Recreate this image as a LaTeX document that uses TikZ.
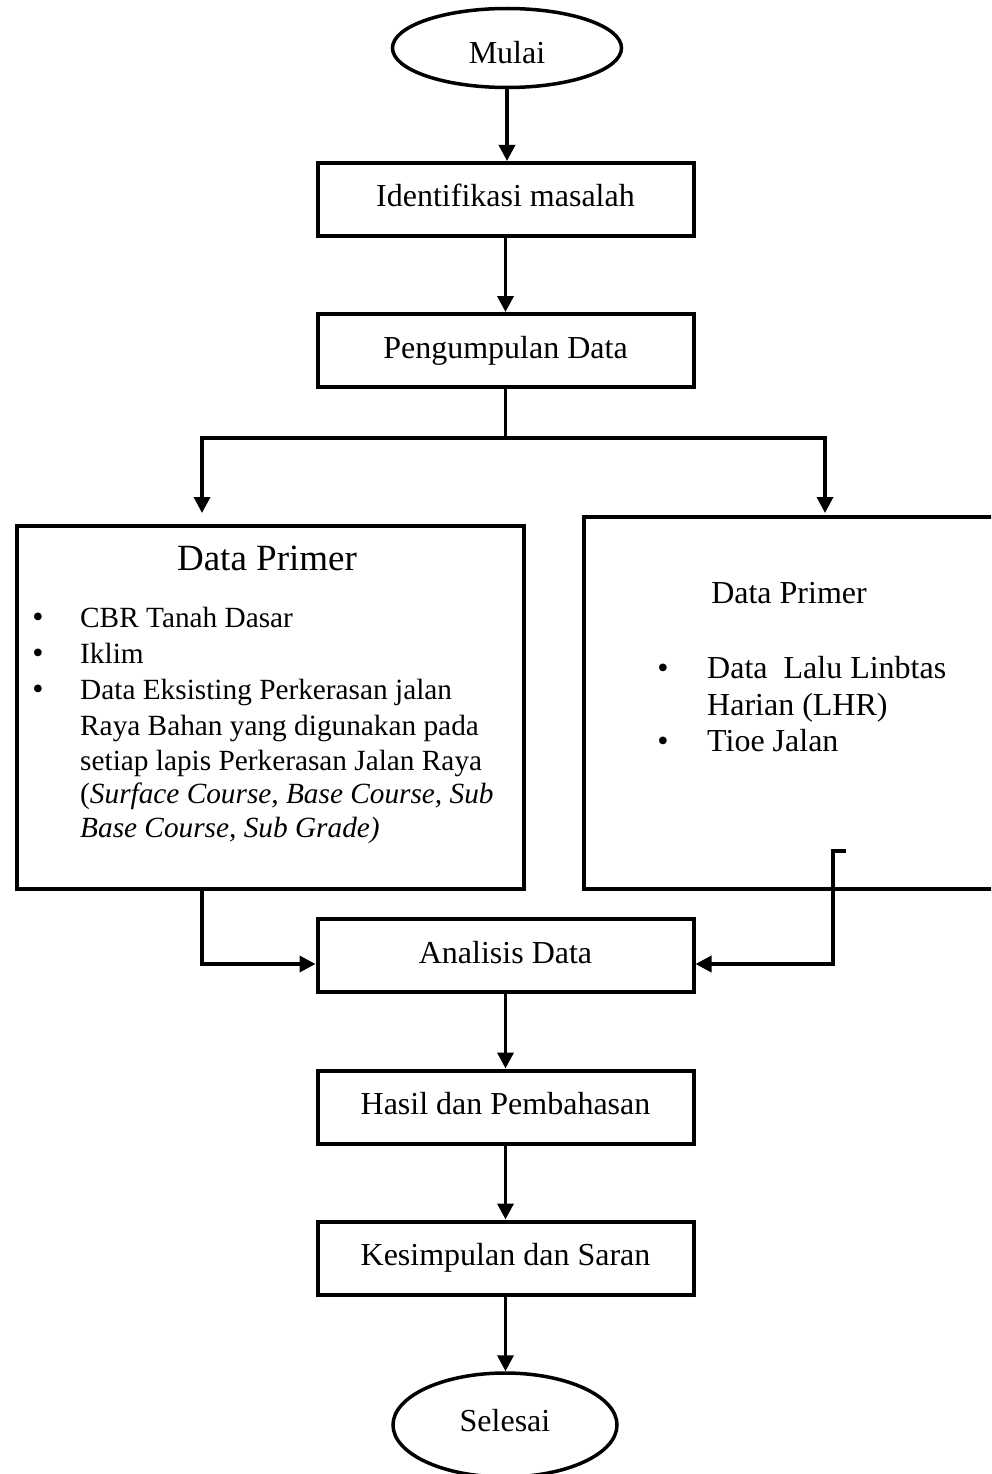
\documentclass[tikz,border=0pt]{standalone}
\usepackage{fontspec}
\setmainfont{Liberation Serif}
\usetikzlibrary{arrows.meta,shapes.geometric}
\begin{document}
\begin{tikzpicture}[x=1pt,y=-1pt,
  every node/.style={font=\fontsize{32}{36}\selectfont},
  box/.style={draw, line width=4pt, minimum width=376pt, minimum height=73pt, inner sep=0pt, text height=22pt, text depth=7pt},
  term/.style={draw, ellipse, line width=3.5pt, inner sep=0pt},
  bigbox/.style={draw, line width=4pt, inner sep=0pt, anchor=north west},
  txt/.style={anchor=base west, inner sep=0pt},
  smalltxt/.style={anchor=base west, inner sep=0pt, font=\fontsize{29.3}{35}\selectfont},
  bul/.style={anchor=base, inner sep=0pt},
  ln/.style={line width=3.5pt},
  tip/.tip={Triangle[length=16pt,width=16pt]},
  arr/.style={line width=3.5pt, -tip}]
\useasboundingbox (0,0) rectangle (991,1474);
\clip (0,0) rectangle (991,1474);
% terminals and process boxes
\node[term, minimum width=229pt, minimum height=79pt, text height=32pt, text depth=0pt] (mulai) at (507,48) {Mulai};
\node[box] (ident) at (505.5,199.5) {Identifikasi masalah};
\node[box] (peng) at (505.5,350.5) {Pengumpulan Data};
\node[bigbox, minimum width=507pt, minimum height=363pt] (prim1) at (15,524) {};
\node[bigbox, minimum width=440pt, minimum height=372pt] (prim2) at (582,515) {};
\node[box] (anal) at (505.5,955.5) {Analisis Data};
\node[box] (hasil) at (505.5,1107) {Hasil dan Pembahasan};
\node[box] (kes) at (505.5,1258) {Kesimpulan dan Saran};
\node[term, minimum width=224pt, minimum height=104pt, text height=22pt, text depth=10pt] (sel) at (505,1425) {Selesai};
% left box contents
\node[font=\fontsize{37}{40}\selectfont, anchor=base, inner sep=0pt] (t1) at (267,570) {Data Primer};
\node[bul] (b1) at (38,627) {•};
\node[smalltxt] (l1) at (80,627) {CBR Tanah Dasar};
\node[bul] (b2) at (38,663) {•};
\node[smalltxt] (l2) at (80,663) {Iklim};
\node[bul] (b3) at (38,699) {•};
\node[smalltxt] (l3) at (80,699) {Data Eksisting Perkerasan jalan};
\node[smalltxt] (l4) at (80,735) {Raya Bahan yang digunakan pada};
\node[smalltxt] (l5) at (80,770) {setiap lapis Perkerasan Jalan Raya};
\node[smalltxt] (l6) at (80,803) {(\textit{Surface Course, Base Course, Sub}};
\node[smalltxt] (l7) at (80,837) {\textit{Base Course, Sub Grade)}};
% right box contents
\node[anchor=base, inner sep=0pt] (t2) at (789,603) {Data Primer};
\node[bul] (b4) at (663,678) {•};
\node[txt] (r1) at (707,678) {Data~ Lalu Linbtas};
\node[txt] (r2) at (707,715) {Harian (LHR)};
\node[bul] (b5) at (663,751) {•};
\node[txt] (r3) at (707,751) {Tioe Jalan};
% connectors
\coordinate (split) at (505.5,438);
\coordinate (lt) at (202,513);
\coordinate (rt) at (825,513);
\coordinate (lin) at (202,964);
\coordinate (rk) at (846,851);
\coordinate (rc) at (833,964);
\draw[arr] (mulai.south) -- (mulai.south |- ident.north);
\draw[arr] (ident.south) -- (peng.north);
\draw[ln] (peng.south) -- (split);
\draw[line width=3.5pt, tip-tip] (lt) |- (split) -| (rt);
\draw[arr] (prim1.south -| lin) -- (lin) -- (anal.west |- lin);
\draw[arr] (rk) -| (rc) -- (anal.east |- rc);
\draw[arr] (anal.south) -- (hasil.north);
\draw[arr] (hasil.south) -- (kes.north);
\draw[arr] (kes.south) -- (kes.south |- sel.north);
\end{tikzpicture}
\end{document}
